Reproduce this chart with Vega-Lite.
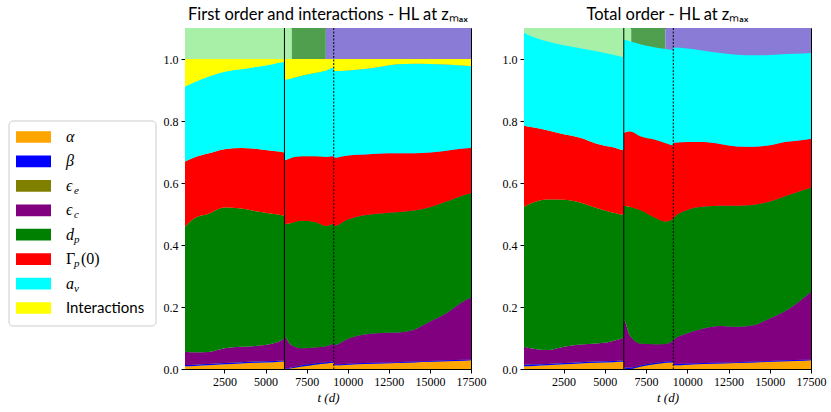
{
  "$schema": "https://vega.github.io/schema/vega-lite/v6.json",
  "padding": {"left": 8, "top": 6, "right": 5, "bottom": 5},
  "datasets": {
    "keys": [
      {"series": "a", "k": 0, "m": "α", "u": "", "s": "", "r": ""},
      {"series": "b", "k": 1, "m": "β", "u": "", "s": "", "r": ""},
      {"series": "ee", "k": 2, "m": "ϵ", "u": "", "s": "e", "r": ""},
      {"series": "ec", "k": 3, "m": "ϵ", "u": "", "s": "c", "r": ""},
      {"series": "dp", "k": 4, "m": "d", "u": "", "s": "p", "r": ""},
      {"series": "g", "k": 5, "m": "", "u": "Γ", "s": "p", "r": "(0)"},
      {"series": "av", "k": 6, "m": "a", "u": "", "s": "v", "r": ""},
      {"series": "it", "k": 7, "m": "Interactions", "u": "", "s": "", "r": ""}
    ],
    "frame": [
      {"x0": 0, "x1": 147, "k0": -0.655, "k1": 7.736}
    ],
    "phases": [
      {"t0": 100, "t1": 6600, "ph": "light"},
      {"t0": 6600, "t1": 8670, "ph": "dark"},
      {"t0": 8670, "t1": 17500, "ph": "violet"}
    ],
    "lines": [
      {"t": 6150, "ls": "solid"},
      {"t": 9150, "ls": "dotted"}
    ],
    "rows": [
      {"p": "L", "t": 100, "a": 0.009, "b": 0.004, "ec": 0.043, "dp": 0.403, "g": 0.210, "av": 0.242, "it": 0.089},
      {"p": "L", "t": 700, "a": 0.010, "b": 0.004, "ec": 0.040, "dp": 0.433, "g": 0.196, "av": 0.243, "it": 0.074},
      {"p": "L", "t": 1500, "a": 0.012, "b": 0.004, "ec": 0.039, "dp": 0.445, "g": 0.195, "av": 0.248, "it": 0.057},
      {"p": "L", "t": 2500, "a": 0.015, "b": 0.004, "ec": 0.048, "dp": 0.454, "g": 0.188, "av": 0.250, "it": 0.041},
      {"p": "L", "t": 3500, "a": 0.018, "b": 0.004, "ec": 0.050, "dp": 0.446, "g": 0.195, "av": 0.254, "it": 0.033},
      {"p": "L", "t": 4500, "a": 0.020, "b": 0.004, "ec": 0.051, "dp": 0.433, "g": 0.202, "av": 0.265, "it": 0.025},
      {"p": "L", "t": 5500, "a": 0.022, "b": 0.004, "ec": 0.057, "dp": 0.417, "g": 0.203, "av": 0.281, "it": 0.016},
      {"p": "L", "t": 6150, "a": 0.024, "b": 0.003, "ec": 0.072, "dp": 0.395, "g": 0.204, "av": 0.292, "it": 0.010},
      {"p": "L", "t": 6160, "a": 0.000, "b": 0.002, "ec": 0.102, "dp": 0.363, "g": 0.207, "av": 0.259, "it": 0.067},
      {"p": "L", "t": 6500, "a": 0.002, "b": 0.002, "ec": 0.076, "dp": 0.390, "g": 0.210, "av": 0.256, "it": 0.064},
      {"p": "L", "t": 7200, "a": 0.008, "b": 0.004, "ec": 0.055, "dp": 0.411, "g": 0.208, "av": 0.260, "it": 0.054},
      {"p": "L", "t": 8000, "a": 0.014, "b": 0.004, "ec": 0.051, "dp": 0.405, "g": 0.212, "av": 0.269, "it": 0.045},
      {"p": "L", "t": 8700, "a": 0.018, "b": 0.004, "ec": 0.051, "dp": 0.388, "g": 0.223, "av": 0.279, "it": 0.037},
      {"p": "L", "t": 9140, "a": 0.020, "b": 0.004, "ec": 0.057, "dp": 0.387, "g": 0.219, "av": 0.285, "it": 0.028},
      {"p": "L", "t": 9160, "a": 0.012, "b": 0.003, "ec": 0.062, "dp": 0.384, "g": 0.221, "av": 0.279, "it": 0.039},
      {"p": "L", "t": 10000, "a": 0.014, "b": 0.003, "ec": 0.080, "dp": 0.385, "g": 0.207, "av": 0.274, "it": 0.037},
      {"p": "L", "t": 11000, "a": 0.016, "b": 0.003, "ec": 0.092, "dp": 0.385, "g": 0.196, "av": 0.276, "it": 0.032},
      {"p": "L", "t": 12000, "a": 0.018, "b": 0.003, "ec": 0.095, "dp": 0.386, "g": 0.193, "av": 0.280, "it": 0.025},
      {"p": "L", "t": 13000, "a": 0.019, "b": 0.003, "ec": 0.096, "dp": 0.388, "g": 0.190, "av": 0.287, "it": 0.017},
      {"p": "L", "t": 14000, "a": 0.021, "b": 0.003, "ec": 0.102, "dp": 0.385, "g": 0.185, "av": 0.289, "it": 0.015},
      {"p": "L", "t": 15000, "a": 0.023, "b": 0.003, "ec": 0.127, "dp": 0.369, "g": 0.176, "av": 0.286, "it": 0.016},
      {"p": "L", "t": 16000, "a": 0.025, "b": 0.003, "ec": 0.152, "dp": 0.360, "g": 0.164, "av": 0.278, "it": 0.018},
      {"p": "L", "t": 17000, "a": 0.027, "b": 0.003, "ec": 0.187, "dp": 0.343, "g": 0.151, "av": 0.268, "it": 0.021},
      {"p": "L", "t": 17500, "a": 0.028, "b": 0.003, "ec": 0.200, "dp": 0.336, "g": 0.147, "av": 0.263, "it": 0.023},
      {"p": "R", "t": 100, "a": 0.009, "b": 0.005, "ec": 0.058, "dp": 0.451, "g": 0.262, "av": 0.300, "it": 0},
      {"p": "R", "t": 700, "a": 0.010, "b": 0.005, "ec": 0.050, "dp": 0.473, "g": 0.241, "av": 0.291, "it": 0},
      {"p": "R", "t": 1500, "a": 0.012, "b": 0.004, "ec": 0.045, "dp": 0.486, "g": 0.223, "av": 0.287, "it": 0},
      {"p": "R", "t": 2500, "a": 0.015, "b": 0.004, "ec": 0.053, "dp": 0.474, "g": 0.211, "av": 0.287, "it": 0},
      {"p": "R", "t": 3500, "a": 0.018, "b": 0.004, "ec": 0.057, "dp": 0.458, "g": 0.209, "av": 0.289, "it": 0},
      {"p": "R", "t": 4500, "a": 0.020, "b": 0.004, "ec": 0.058, "dp": 0.437, "g": 0.208, "av": 0.298, "it": 0},
      {"p": "R", "t": 5500, "a": 0.022, "b": 0.004, "ec": 0.064, "dp": 0.414, "g": 0.211, "av": 0.299, "it": 0},
      {"p": "R", "t": 6150, "a": 0.023, "b": 0.004, "ec": 0.077, "dp": 0.394, "g": 0.208, "av": 0.301, "it": 0},
      {"p": "R", "t": 6160, "a": 0.002, "b": 0.004, "ec": 0.151, "dp": 0.370, "g": 0.235, "av": 0.300, "it": 0},
      {"p": "R", "t": 6500, "a": 0.000, "b": 0.004, "ec": 0.106, "dp": 0.413, "g": 0.244, "av": 0.290, "it": 0},
      {"p": "R", "t": 7200, "a": 0.008, "b": 0.004, "ec": 0.070, "dp": 0.429, "g": 0.239, "av": 0.297, "it": 0},
      {"p": "R", "t": 8000, "a": 0.015, "b": 0.004, "ec": 0.061, "dp": 0.409, "g": 0.251, "av": 0.298, "it": 0},
      {"p": "R", "t": 8700, "a": 0.020, "b": 0.004, "ec": 0.057, "dp": 0.395, "g": 0.252, "av": 0.304, "it": 0},
      {"p": "R", "t": 9140, "a": 0.021, "b": 0.004, "ec": 0.066, "dp": 0.393, "g": 0.238, "av": 0.307, "it": 0},
      {"p": "R", "t": 9160, "a": 0.012, "b": 0.004, "ec": 0.077, "dp": 0.394, "g": 0.243, "av": 0.307, "it": 0},
      {"p": "R", "t": 10000, "a": 0.014, "b": 0.004, "ec": 0.097, "dp": 0.398, "g": 0.219, "av": 0.302, "it": 0},
      {"p": "R", "t": 11000, "a": 0.016, "b": 0.003, "ec": 0.112, "dp": 0.393, "g": 0.208, "av": 0.295, "it": 0},
      {"p": "R", "t": 12000, "a": 0.018, "b": 0.003, "ec": 0.118, "dp": 0.388, "g": 0.199, "av": 0.293, "it": 0},
      {"p": "R", "t": 13000, "a": 0.019, "b": 0.003, "ec": 0.114, "dp": 0.391, "g": 0.191, "av": 0.296, "it": 0},
      {"p": "R", "t": 14000, "a": 0.021, "b": 0.003, "ec": 0.117, "dp": 0.389, "g": 0.187, "av": 0.295, "it": 0},
      {"p": "R", "t": 15000, "a": 0.023, "b": 0.003, "ec": 0.137, "dp": 0.377, "g": 0.182, "av": 0.291, "it": 0},
      {"p": "R", "t": 16000, "a": 0.025, "b": 0.003, "ec": 0.161, "dp": 0.370, "g": 0.174, "av": 0.283, "it": 0},
      {"p": "R", "t": 17000, "a": 0.027, "b": 0.003, "ec": 0.197, "dp": 0.350, "g": 0.162, "av": 0.279, "it": 0},
      {"p": "R", "t": 17500, "a": 0.028, "b": 0.003, "ec": 0.217, "dp": 0.337, "g": 0.158, "av": 0.276, "it": 0}
    ]
  },
  "spacing": 5,
  "hconcat": [
    {
      "width": 147,
      "height": 341,
      "view": {"stroke": null},
      "layer": [
        {
          "data": {"name": "frame"},
          "mark": {"type": "rect", "fill": "white", "stroke": "#cccccc", "strokeWidth": 1, "cornerRadius": 4},
          "encoding": {
            "x": {"field": "x0", "type": "quantitative", "scale": {"domain": [0, 147], "nice": false, "zero": false}, "axis": null},
            "x2": {"field": "x1"},
            "y": {"field": "k0", "type": "quantitative", "scale": {"domain": [-4.462, 9.497], "reverse": true, "nice": false, "zero": false}, "axis": null},
            "y2": {"field": "k1"}
          }
        },
        {
          "data": {"name": "keys"},
          "mark": {"type": "point", "shape": "M-1,-0.334H1V0.334H-1Z", "filled": true, "size": 1225, "opacity": 1, "strokeWidth": 0},
          "encoding": {
            "x": {"datum": 24.5, "type": "quantitative"},
            "y": {"field": "k", "type": "quantitative"},
            "color": {"field": "series", "type": "nominal", "legend": null}
          }
        },
        {
          "data": {"name": "keys"},
          "transform": [{"filter": "datum.k < 7"}],
          "mark": {"type": "text", "align": "left", "baseline": "middle", "font": "Liberation Serif", "fontStyle": "italic", "fontSize": 16, "color": "black"},
          "encoding": {"x": {"datum": 57, "type": "quantitative"}, "y": {"field": "k", "type": "quantitative"}, "text": {"field": "m"}}
        },
        {
          "data": {"name": "keys"},
          "transform": [{"filter": "datum.k < 7"}],
          "mark": {"type": "text", "align": "left", "baseline": "middle", "font": "Liberation Serif", "fontSize": 16, "color": "black"},
          "encoding": {"x": {"datum": 57, "type": "quantitative"}, "y": {"field": "k", "type": "quantitative"}, "text": {"field": "u"}}
        },
        {
          "data": {"name": "keys"},
          "mark": {"type": "text", "align": "left", "baseline": "middle", "font": "Liberation Serif", "fontStyle": "italic", "fontSize": 11, "dx": 8, "dy": 5, "color": "black"},
          "encoding": {"x": {"datum": 57, "type": "quantitative"}, "y": {"field": "k", "type": "quantitative"}, "text": {"field": "s"}}
        },
        {
          "data": {"name": "keys"},
          "mark": {"type": "text", "align": "left", "baseline": "middle", "font": "Liberation Serif", "fontSize": 16, "dx": 15, "color": "black"},
          "encoding": {"x": {"datum": 57, "type": "quantitative"}, "y": {"field": "k", "type": "quantitative"}, "text": {"field": "r"}}
        },
        {
          "data": {"name": "keys"},
          "transform": [{"filter": "datum.k == 7"}],
          "mark": {"type": "text", "align": "left", "baseline": "middle", "font": "Lato", "fontSize": 15, "color": "black"},
          "encoding": {"x": {"datum": 57, "type": "quantitative"}, "y": {"field": "k", "type": "quantitative"}, "text": {"field": "m"}}
        }
      ]
    },
    {
      "spacing": 14,
      "hconcat": [
        {
          "width": 286,
          "height": 341,
          "title": {"text": "First order and interactions - HL at zₘₐₓ"},
          "layer": [
            {
              "data": {"name": "phases"},
              "mark": {"type": "rect"},
              "encoding": {
                "x": {"field": "t0", "type": "quantitative", "title": "t (d)", "scale": {"domain": [100, 17500], "nice": false, "zero": false}},
                "x2": {"field": "t1"},
                "y": {"datum": 0, "type": "quantitative", "scale": {"domain": [0, 1.1], "nice": false}},
                "y2": {"datum": 1.1},
                "fill": {"field": "ph", "type": "nominal", "scale": {"domain": ["light", "dark", "violet"], "range": ["#a8f0a8", "#4f9f4f", "#8a7bd6"]}, "legend": null}
              }
            },
            {
              "data": {"name": "rows"},
              "transform": [
                {"filter": "datum.p == 'L'"},
                {"fold": ["a", "b", "ec", "dp", "g", "av", "it"], "as": ["series", "v"]},
                {"lookup": "series", "from": {"data": {"name": "keys"}, "key": "series", "fields": ["k"]}}
              ],
              "mark": {"type": "area", "interpolate": "monotone"},
              "encoding": {
                "x": {"field": "t", "type": "quantitative", "title": "t (d)", "axis": {"values": [2500, 5000, 7500, 10000, 12500, 15000, 17500], "format": "d"}},
                "y": {"field": "v", "type": "quantitative", "stack": "zero", "title": null, "axis": {"values": [0, 0.2, 0.4, 0.6, 0.8, 1.0], "format": ".1f"}},
                "color": {"field": "series", "type": "nominal", "scale": {"domain": ["a", "b", "ee", "ec", "dp", "g", "av", "it"], "range": ["#ffa500", "#0000ff", "#808000", "#800080", "#008000", "#ff0000", "#00ffff", "#ffff00"]}, "legend": null},
                "order": {"field": "k", "type": "quantitative"}
              }
            },
            {
              "data": {"name": "lines"},
              "mark": {"type": "rule", "color": "black", "strokeWidth": 1},
              "encoding": {
                "x": {"field": "t", "type": "quantitative", "title": "t (d)"},
                "strokeDash": {"field": "ls", "type": "nominal", "scale": {"domain": ["solid", "dotted"], "range": [[1, 0], [2, 1.5]]}, "legend": null}
              }
            }
          ]
        },
        {
          "width": 287,
          "height": 341,
          "title": {"text": "Total order - HL at zₘₐₓ"},
          "layer": [
            {
              "data": {"name": "phases"},
              "mark": {"type": "rect"},
              "encoding": {
                "x": {"field": "t0", "type": "quantitative", "title": "t (d)", "scale": {"domain": [100, 17500], "nice": false, "zero": false}},
                "x2": {"field": "t1"},
                "y": {"datum": 0, "type": "quantitative", "scale": {"domain": [0, 1.1], "nice": false}},
                "y2": {"datum": 1.1},
                "fill": {"field": "ph", "type": "nominal", "scale": {"domain": ["light", "dark", "violet"], "range": ["#a8f0a8", "#4f9f4f", "#8a7bd6"]}, "legend": null}
              }
            },
            {
              "data": {"name": "rows"},
              "transform": [
                {"filter": "datum.p == 'R'"},
                {"fold": ["a", "b", "ec", "dp", "g", "av", "it"], "as": ["series", "v"]},
                {"lookup": "series", "from": {"data": {"name": "keys"}, "key": "series", "fields": ["k"]}}
              ],
              "mark": {"type": "area", "interpolate": "monotone"},
              "encoding": {
                "x": {"field": "t", "type": "quantitative", "title": "t (d)", "axis": {"values": [2500, 5000, 7500, 10000, 12500, 15000, 17500], "format": "d"}},
                "y": {"field": "v", "type": "quantitative", "stack": "zero", "title": null, "axis": {"values": [0, 0.2, 0.4, 0.6, 0.8, 1.0], "format": ".1f"}},
                "color": {"field": "series", "type": "nominal", "legend": null},
                "order": {"field": "k", "type": "quantitative"}
              }
            },
            {
              "data": {"name": "lines"},
              "mark": {"type": "rule", "color": "black", "strokeWidth": 1},
              "encoding": {
                "x": {"field": "t", "type": "quantitative", "title": "t (d)"},
                "strokeDash": {"field": "ls", "type": "nominal", "scale": {"domain": ["solid", "dotted"], "range": [[1, 0], [2, 1.5]]}, "legend": null}
              }
            }
          ]
        }
      ]
    }
  ],
  "config": {
    "view": {"stroke": "black", "strokeWidth": 1},
    "axis": {
      "labelFont": "Liberation Serif",
      "labelFontSize": 12,
      "labelColor": "black",
      "domainColor": "black",
      "tickColor": "black",
      "tickSize": 4,
      "grid": false,
      "labelFlush": false,
      "labelPadding": 3,
      "titleFont": "Liberation Serif",
      "titleFontStyle": "italic",
      "titleFontWeight": "normal",
      "titleFontSize": 13,
      "titleColor": "black"
    },
    "title": {"font": "Lato", "fontSize": 16.5, "fontWeight": "normal", "color": "black", "offset": 4}
  }
}
